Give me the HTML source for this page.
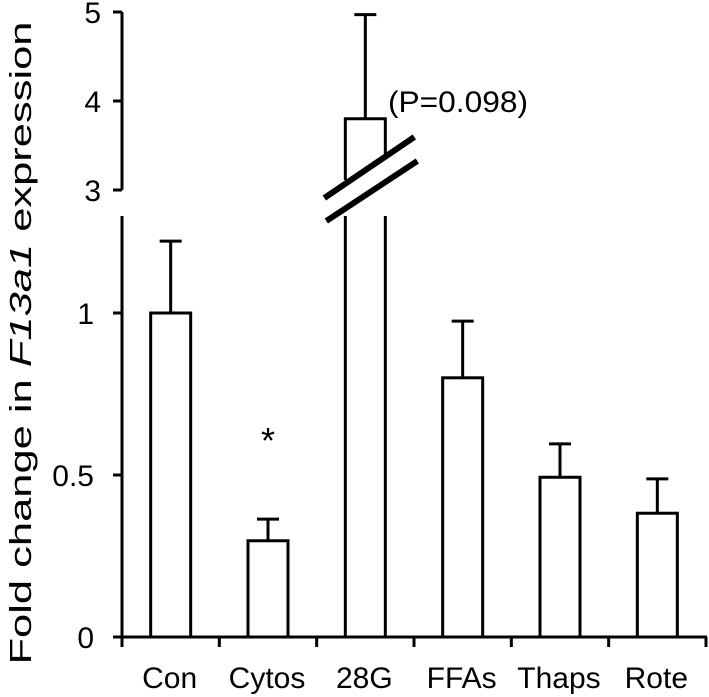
<!DOCTYPE html>
<html><head><meta charset="utf-8"><style>
html,body{margin:0;padding:0;background:#fff;}
svg{display:block;font-family:"Liberation Sans",Arial,sans-serif;}
</style></head><body>
<svg id="chart" width="709" height="697" viewBox="0 0 709 697" xmlns="http://www.w3.org/2000/svg">
<text transform="translate(31,343) rotate(-90)" text-anchor="middle" font-size="31" fill="#000" textLength="643" lengthAdjust="spacingAndGlyphs">Fold change in <tspan font-style="italic">F13a1</tspan> expression</text>
<g id="axes"></g>
<g id="bars"></g>
</svg>
<script>
const categories = ["Con","Cytos","28G","FFAs","Thaps","Rote"];
const means = [1.0, 0.297, 3.80, 0.80, 0.493, 0.382];
const errors = [0.222, 0.067, 1.17, 0.175, 0.103, 0.106];
const lowerTicks = [0, 0.5, 1];
const lowerTickLabels = ["0","0.5","1"];
const upperTicks = [3, 4, 5];
const upperTickLabels = ["3","4","5"];

const NS = "http://www.w3.org/2000/svg";
const gA = document.getElementById("axes");
const gB = document.getElementById("bars");
const X0 = 122, X1 = 706, BASE = 637, LOWTOP = 216, UPTOP = 12, UPBOT = 190;
function yLow(v){ return BASE - v * 324; }
function yUp(v){ return UPBOT - (v - 3) * 89; }
function y(v){ return v <= 1.3 ? yLow(v) : yUp(v); }
const step = (X1 - X0) / categories.length;
function xc(i){ return X0 + step * (i + 0.5); }
function el(tag, attrs, parent){
  const e = document.createElementNS(NS, tag);
  for (const k in attrs) e.setAttribute(k, attrs[k]);
  parent.appendChild(e); return e;
}
const st = {stroke:"#000","stroke-width":3,fill:"none"};

let ax = el("line", Object.assign({x1:X0,y1:LOWTOP,x2:X0,y2:BASE+1}, st), gA);


lowerTicks.forEach((t, i) => {
  const tk = el("line", Object.assign({x1:X0-9,y1:yLow(t),x2:X0,y2:yLow(t)}, st), gA);
  
  
  const tx = el("text", {x:94, y:yLow(t) + 11, "text-anchor":"end","font-size":30}, gA);
  tx.textContent = lowerTickLabels[i];
  
  
});
ax = el("line", Object.assign({x1:X0,y1:UPTOP,x2:X0,y2:UPBOT}, st), gA);


upperTicks.forEach((t, i) => {
  const tk = el("line", Object.assign({x1:X0-9,y1:yUp(t),x2:X0,y2:yUp(t)}, st), gA);
  
  
  const tx = el("text", {x:101, y:yUp(t) + 11, "text-anchor":"end","font-size":30}, gA);
  tx.textContent = upperTickLabels[i];
  
  
});
ax = el("line", Object.assign({x1:X0-9,y1:BASE,x2:X1+1,y2:BASE}, st), gA);


for (let i = 0; i <= categories.length; i++) {
  const tk = el("line", Object.assign({x1:X0+step*i,y1:BASE,x2:X0+step*i,y2:BASE+10}, st), gA);
  
  
}
categories.forEach((c, i) => {
  const tx = el("text", {x:xc(i)-1, y:688, "text-anchor":"middle","font-size":30}, gA);
  tx.textContent = c;
  
  
});

const BW = 40;
means.forEach((m, i) => {
  const cx = xc(i), top = y(m), et = y(m + errors[i]);
  const eb = el("line", Object.assign({x1:cx,y1:et,x2:cx,y2:top}, st), gB);
  
  
  const cap = el("line", Object.assign({x1:cx-11,y1:et,x2:cx+11,y2:et}, st), gB);
  
  
  if (m <= 1.3) {
    const r = el("rect", {x:cx-BW/2, y:top, width:BW, height:BASE-top, fill:"#fff", stroke:"#000","stroke-width":3}, gB);
    
    
  } else {
    const g = el("g", {}, gB);
    
    
    el("path", {d:`M${cx-BW/2},${UPBOT-10} L${cx-BW/2},${top} L${cx+BW/2},${top} L${cx+BW/2},${UPBOT-10}`, fill:"#fff", stroke:"#000","stroke-width":3}, g);
    el("path", {d:`M${cx-BW/2},${LOWTOP} L${cx-BW/2},${BASE} M${cx+BW/2},${LOWTOP} L${cx+BW/2},${BASE}`, fill:"none", stroke:"#000","stroke-width":3}, g);
    el("polygon", {points:`${cx-41},${201} ${cx+49},${139} ${cx+51},${164} ${cx-39},${223}`, fill:"#fff"}, g);
    const b1 = el("line", {x1:cx-41,y1:198,x2:cx+49,y2:137,stroke:"#000","stroke-width":6}, g);
    
    
    const b2 = el("line", {x1:cx-39,y1:221,x2:cx+52,y2:161,stroke:"#000","stroke-width":6}, g);
    
    
  }
});
const star = el("text", {x:xc(1), y:yLow(0.63)+20, "text-anchor":"middle","font-size":36}, gB);
star.textContent = "*";


const pt = el("text", {x:388, y:112, "font-size":30, textLength:140, lengthAdjust:"spacingAndGlyphs"}, gB);
pt.textContent = "(P=0.098)";


</script>
</body></html>
